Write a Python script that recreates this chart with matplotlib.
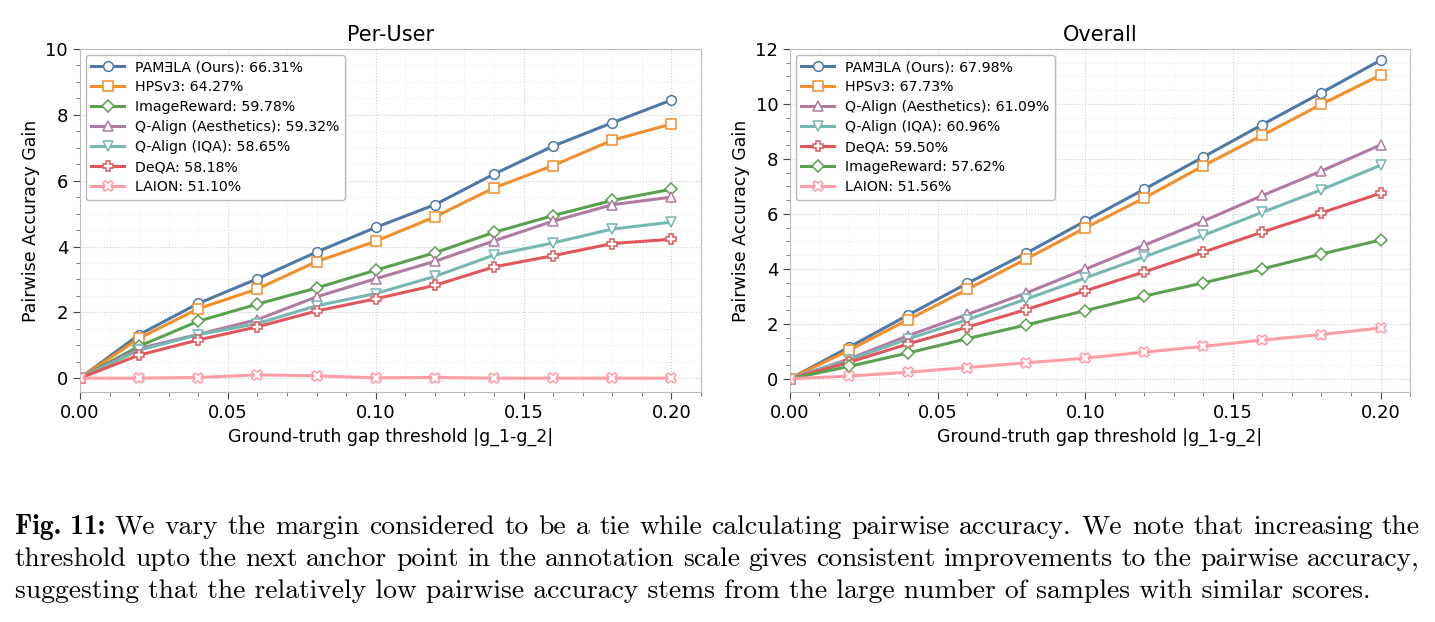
import numpy as np
import matplotlib
matplotlib.use("Agg")
import matplotlib.pyplot as plt
from matplotlib.ticker import MultipleLocator

# thresholds on the x axis
thresholds = [0.00, 0.02, 0.04, 0.06, 0.08, 0.10, 0.12, 0.14, 0.16, 0.18, 0.20]

# Per-User gains
pu_pamela = [0, 1.32, 2.27, 3.02, 3.83, 4.58, 5.27, 6.20, 7.05, 7.76, 8.45]
pu_hps = [0, 1.21, 2.11, 2.71, 3.54, 4.16, 4.90, 5.78, 6.46, 7.23, 7.72]
pu_imagereward = [0, 0.97, 1.73, 2.25, 2.74, 3.28, 3.81, 4.43, 4.94, 5.40, 5.74]
pu_qalign_aes = [0, 0.90, 1.33, 1.78, 2.47, 3.02, 3.55, 4.17, 4.77, 5.27, 5.50]
pu_qalign_iqa = [0, 0.85, 1.32, 1.66, 2.20, 2.57, 3.09, 3.74, 4.11, 4.53, 4.74]
pu_deqa = [0, 0.70, 1.16, 1.56, 2.04, 2.41, 2.82, 3.38, 3.72, 4.09, 4.22]
pu_laion = [0, 0.00, 0.02, 0.10, 0.07, 0.01, 0.02, 0.00, 0.00, 0.00, 0.00]

# Overall gains
ov_pamela = [0, 1.15, 2.32, 3.47, 4.57, 5.74, 6.90, 8.07, 9.25, 10.41, 11.59]
ov_hps = [0, 1.04, 2.15, 3.25, 4.36, 5.49, 6.58, 7.75, 8.86, 9.99, 11.05]
ov_qalign_aes = [0, 0.72, 1.57, 2.34, 3.12, 3.99, 4.86, 5.74, 6.67, 7.56, 8.51]
ov_qalign_iqa = [0, 0.69, 1.45, 2.15, 2.90, 3.67, 4.44, 5.22, 6.06, 6.88, 7.77]
ov_deqa = [0, 0.60, 1.27, 1.88, 2.52, 3.20, 3.89, 4.61, 5.34, 6.04, 6.75]
ov_imagereward = [0, 0.45, 0.94, 1.46, 1.96, 2.48, 3.01, 3.49, 4.00, 4.54, 5.05]
ov_laion = [0, 0.10, 0.24, 0.41, 0.58, 0.75, 0.97, 1.18, 1.41, 1.61, 1.85]

# style per method: colour, marker
styles = {
    "PAMELA": ("#4e79a7", "o"),
    "HPSv3": ("#f28e2b", "s"),
    "ImageReward": ("#59a14f", "D"),
    "QAes": ("#b07aa1", "^"),
    "QIQA": ("#76b7b2", "v"),
    "DeQA": ("#e15759", "P"),
    "LAION": ("#ff9da7", "X"),
}

per_user = [
    ("PAMELA", "PAM\u018eLA (Ours): 66.31%", pu_pamela),
    ("HPSv3", "HPSv3: 64.27%", pu_hps),
    ("ImageReward", "ImageReward: 59.78%", pu_imagereward),
    ("QAes", "Q-Align (Aesthetics): 59.32%", pu_qalign_aes),
    ("QIQA", "Q-Align (IQA): 58.65%", pu_qalign_iqa),
    ("DeQA", "DeQA: 58.18%", pu_deqa),
    ("LAION", "LAION: 51.10%", pu_laion),
]
overall = [
    ("PAMELA", "PAM\u018eLA (Ours): 67.98%", ov_pamela),
    ("HPSv3", "HPSv3: 67.73%", ov_hps),
    ("QAes", "Q-Align (Aesthetics): 61.09%", ov_qalign_aes),
    ("QIQA", "Q-Align (IQA): 60.96%", ov_qalign_iqa),
    ("DeQA", "DeQA: 59.50%", ov_deqa),
    ("ImageReward", "ImageReward: 57.62%", ov_imagereward),
    ("LAION", "LAION: 51.56%", ov_laion),
]

fig = plt.figure(figsize=(14.35, 6.22), dpi=100)
ax1 = fig.add_axes([0.0557, 0.3698, 0.4328, 0.5514])
ax2 = fig.add_axes([0.5505, 0.3698, 0.4321, 0.5514])


def draw(ax, series, title, ylim, ymajor, yminor):
    for key, label, vals in series:
        color, marker = styles[key]
        ms = 7 if marker in ("o", "s") else 7.5
        if marker == "D":
            ms = 6
        ax.plot(thresholds, vals, color=color, marker=marker, markersize=ms,
                markerfacecolor="white", markeredgecolor=color,
                markeredgewidth=1.1, linewidth=2.2, label=label)
    ax.set_xlim(0, 0.21)
    ax.set_ylim(*ylim)
    ax.xaxis.set_major_locator(MultipleLocator(0.05))
    ax.xaxis.set_minor_locator(MultipleLocator(0.01))
    ax.yaxis.set_major_locator(MultipleLocator(ymajor))
    ax.yaxis.set_minor_locator(MultipleLocator(yminor))
    ax.xaxis.set_major_formatter(plt.FormatStrFormatter("%.2f"))
    ax.grid(which="major", linestyle=":", color="#cccccc", linewidth=0.8)
    ax.grid(which="minor", linestyle=":", color="#e6e6e6", linewidth=0.6)
    ax.set_axisbelow(True)
    for sp in ax.spines.values():
        sp.set_color("#bbbbbb")
    ax.tick_params(which="major", labelsize=13, length=5, color="#444444")
    ax.tick_params(which="minor", length=3, color="#666666")
    ax.set_title(title, fontsize=15, pad=6)
    ax.set_xlabel("Ground-truth gap threshold |g_1-g_2|", fontsize=12.5)
    ax.set_ylabel("Pairwise Accuracy Gain", fontsize=12.5)
    ax.legend(loc="upper left", fontsize=10.2, frameon=True, framealpha=1,
              edgecolor="#bbbbbb", handlelength=2.3, borderaxespad=0.4,
              labelspacing=0.42)


draw(ax1, per_user, "Per-User", (-0.42, 10), 2, 0.5)
draw(ax2, overall, "Overall", (-0.48, 12), 2, 0.5)

# caption, justified like the LaTeX original
bold_prefix = "Fig. 11:"
lines = [
    "We vary the margin considered to be a tie while calculating pairwise accuracy. We note that increasing the",
    "threshold upto the next anchor point in the annotation scale gives consistent improvements to the pairwise accuracy,",
    "suggesting that the relatively low pairwise accuracy stems from the large number of samples with similar scores.",
]
line_y = [527, 559, 591]
justify = [True, True, False]
left, right = 15, 1420
fig.canvas.draw()
renderer = fig.canvas.get_renderer()

# size the font so the last (ragged) line ends where the original does
base = 15.0
probe = fig.text(0, 0, lines[2], fontsize=base, family="cmr10")
fs = base * (1376 - left) / probe.get_window_extent(renderer).width
probe.remove()
space_probe = fig.text(0, 0, "a a", fontsize=fs, family="cmr10")
aa = fig.text(0, 0, "aa", fontsize=fs, family="cmr10")
space_w = (space_probe.get_window_extent(renderer).width
           - aa.get_window_extent(renderer).width)
space_probe.remove()
aa.remove()

for i, (txt, yy, jus) in enumerate(zip(lines, line_y, justify)):
    yf = 1 - yy / 622
    x = left
    if i == 0:
        b = fig.text(x / 1435, yf, bold_prefix, fontsize=fs, family="cmb10",
                     va="center", ha="left")
        x += b.get_window_extent(renderer).width + space_w
    words = txt.split(" ")
    if not jus:
        fig.text(x / 1435, yf, txt, fontsize=fs, family="cmr10",
                 va="center", ha="left")
        continue
    arts = [fig.text(0, yf, w, fontsize=fs, family="cmr10", va="center",
                     ha="left") for w in words]
    widths = [a.get_window_extent(renderer).width for a in arts]
    gap = (right - x - sum(widths)) / (len(words) - 1)
    for a, w in zip(arts, widths):
        a.set_x(x / 1435)
        x += w + gap

fig.savefig("out.png", dpi=100)
